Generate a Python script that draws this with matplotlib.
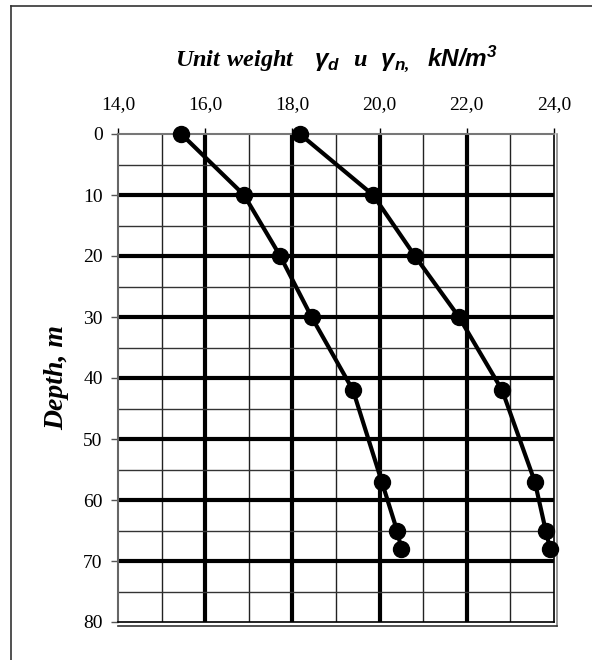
import matplotlib
matplotlib.use("Agg")
import matplotlib.pyplot as plt
from matplotlib.lines import Line2D

# depth in m, unit weights in kN/m3
depth = [0, 10, 20, 30, 42, 57, 65, 68]
gamma_d = [15.45, 16.89, 17.72, 18.44, 19.39, 20.05, 20.4, 20.5]
gamma_n = [18.17, 19.85, 20.81, 21.82, 22.81, 23.56, 23.81, 23.91]

x_ticks = [14, 16, 18, 20, 22, 24]
x_tick_labels = ["14,0", "16,0", "18,0", "20,0", "22,0", "24,0"]
y_ticks = [0, 10, 20, 30, 40, 50, 60, 70, 80]

plt.rcParams["mathtext.fontset"] = "custom"
plt.rcParams["mathtext.rm"] = "Liberation Serif:bold:italic"
plt.rcParams["mathtext.it"] = "Liberation Sans:bold:italic"
plt.rcParams["mathtext.bf"] = "Liberation Serif:bold:italic"
plt.rcParams["mathtext.sf"] = "Liberation Sans:bold:italic"

fig = plt.figure(figsize=(5.92, 6.60), dpi=100)
ax = fig.add_axes([118 / 592, 1 - 622 / 660, 436 / 592, 488 / 660])

ax.set_xlim(14, 24)
ax.set_ylim(80, 0)

# grid: thin lines every 1 kN/m3 and 5 m, thick lines at the majors
for v in [15, 17, 19, 21, 23]:
    ax.axvline(v, color="#222222", lw=1.0, zorder=1)
for v in [16, 18, 20, 22]:
    ax.axvline(v, color="black", lw=3.0, zorder=1)
for d in [5, 15, 25, 35, 45, 55, 65, 75]:
    ax.axhline(d, color="#333333", lw=1.0, zorder=1)
for d in [10, 20, 30, 40, 50, 60, 70]:
    ax.axhline(d, color="black", lw=3.0, zorder=1)

ax.plot(gamma_d, depth, color="black", lw=3, marker="o", ms=11.5, zorder=3, clip_on=False)
ax.plot(gamma_n, depth, color="black", lw=3, marker="o", ms=11.5, zorder=3, clip_on=False)

ax.xaxis.tick_top()
ax.set_xticks(x_ticks)
ax.set_xticklabels(x_tick_labels, fontfamily="Liberation Serif", fontsize=14)
ax.set_yticks(y_ticks)
ax.set_yticklabels([str(t) for t in y_ticks], fontfamily="Liberation Serif", fontsize=14)
ax.tick_params(axis="x", direction="out", length=4, width=1, pad=11, color="black")
ax.tick_params(axis="y", direction="out", length=5, width=1, pad=6, color="#555555")

ax.spines["top"].set_color("#777777")
ax.spines["top"].set_linewidth(1.5)
ax.spines["left"].set_color("#666666")
ax.spines["left"].set_linewidth(1.5)
ax.spines["right"].set_color("black")
ax.spines["right"].set_linewidth(1.2)
ax.spines["bottom"].set_color("black")
ax.spines["bottom"].set_linewidth(1.2)

# double line on right and bottom edges
ax.add_line(Line2D([1.006, 1.006], [-0.008, 1.0], transform=ax.transAxes,
                   color="#888888", lw=1.2, clip_on=False))
ax.add_line(Line2D([0.0, 1.006], [-0.008, -0.008], transform=ax.transAxes,
                   color="#333333", lw=1.2, clip_on=False))

fig.text(336 / 592, 1 - 58 / 660,
         r"$\mathrm{Unit\ weight}\quad\gamma_d\ \ \mathrm{u}\ \ \gamma_{n,}\ \ \mathsf{kN/m^3}$",
         fontsize=17.5, ha="center", va="center")

fig.text(57 / 592, 1 - 378 / 660, "Depth, m", rotation=90,
         fontfamily="Liberation Serif", fontweight="bold", fontstyle="italic",
         fontsize=20, ha="center", va="center")

# outer frame (only top and left visible in the picture)
fig.add_artist(Line2D([11 / 592, 11 / 592], [0, 1 - 6 / 660], transform=fig.transFigure,
                      color="#333333", lw=1.2))
fig.add_artist(Line2D([11 / 592, 1], [1 - 6 / 660, 1 - 6 / 660], transform=fig.transFigure,
                      color="#333333", lw=1.2))

fig.savefig("out.png", dpi=100, facecolor="white")
